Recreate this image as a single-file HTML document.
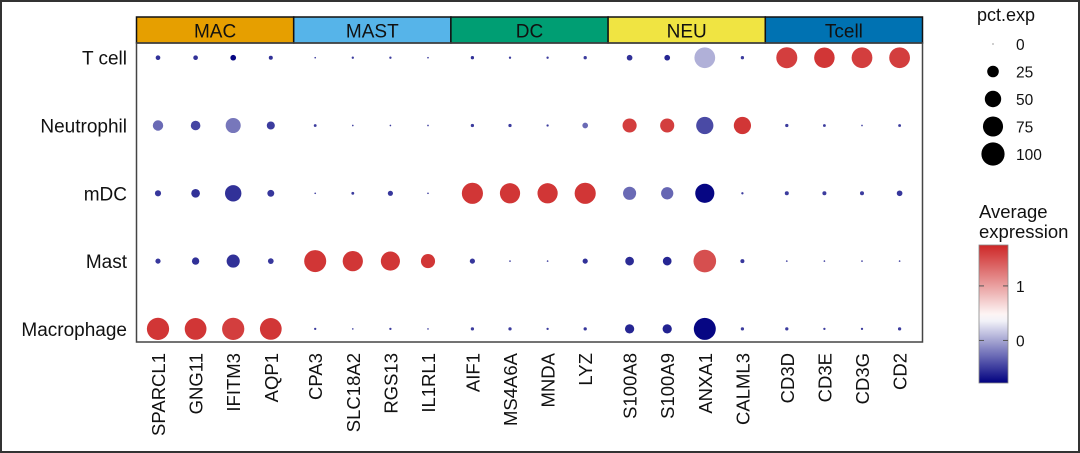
<!DOCTYPE html>
<html><head><meta charset="utf-8"><style>
html,body{margin:0;padding:0;background:#fff}
svg{display:block;font-family:"Liberation Sans",Arial,sans-serif}
</style></head><body>
<svg id="chart" width="1080" height="453" viewBox="0 0 1080 453">
<rect x="1" y="1" width="1078" height="451" fill="#fff" stroke="#333" stroke-width="2"/>
<g id="strips"></g>
<rect x="136.5" y="43" width="786" height="299" fill="none" stroke="#444" stroke-width="1.5"/>
<g id="dots"></g><g id="ylab"></g><g id="xlab"></g><g id="legend"></g>
</svg>
<script>
const genes=["SPARCL1","GNG11","IFITM3","AQP1","CPA3","SLC18A2","RGS13","IL1RL1","AIF1","MS4A6A","MNDA","LYZ","S100A8","S100A9","ANXA1","CALML3","CD3D","CD3E","CD3G","CD2"];
const groups=["MAC","MAST","DC","NEU","Tcell"];
const groupColors=["#E69F00","#56B4E9","#009E73","#F0E442","#0072B2"];
const cellTypes=["T cell","Neutrophil","mDC","Mast","Macrophage"];
const expTcell=[-0.55,-0.55,-0.75,-0.55,-0.5,-0.5,-0.5,-0.5,-0.55,-0.5,-0.5,-0.5,-0.55,-0.6,0.05,-0.5,1.6,1.65,1.6,1.6];
const pctTcell=[4,4,6,3,0.5,1,1,0.5,2,1,1,2,6,6,80,2,82,78,80,80];
const expNeu=[-0.28,-0.45,-0.22,-0.5,-0.5,-0.5,-0.5,-0.5,-0.5,-0.5,-0.5,-0.28,1.6,1.6,-0.43,1.65,-0.5,-0.5,-0.5,-0.5];
const pctNeu=[20,17,42,12,1.5,0.5,0.5,0.5,2,2,1,6,37,37,55,55,2,1.5,0.5,1.5];
const expDC=[-0.52,-0.55,-0.55,-0.52,-0.5,-0.5,-0.52,-0.5,1.65,1.65,1.65,1.65,-0.28,-0.3,-0.75,-0.5,-0.5,-0.5,-0.5,-0.52];
const pctDC=[7,14,50,9,0.5,1.5,5,0.5,83,76,76,83,32,28,68,1,3,3,3,6];
const expMast=[-0.52,-0.55,-0.55,-0.52,1.65,1.65,1.65,1.65,-0.52,-0.5,-0.5,-0.55,-0.58,-0.6,1.5,-0.52,-0.5,-0.5,-0.5,-0.5];
const pctMast=[5,10,32,6,90,76,68,37,5,0.5,0.5,5,14,14,95,3,0.5,0.5,0.5,0.5];
const expMac=[1.65,1.65,1.6,1.65,-0.5,-0.5,-0.5,-0.5,-0.5,-0.5,-0.5,-0.52,-0.6,-0.62,-0.75,-0.5,-0.5,-0.5,-0.5,-0.5];
const pctMac=[92,88,92,88,1,0.5,1,0.5,2,2,1,2,16,16,90,2,2,1,1,2];
const legendPct=[0,25,50,75,100];
const legendTicks=[0,1];

const NS="http://www.w3.org/2000/svg";
function mk(t,a,p){const e=document.createElementNS(NS,t);for(const k in a)e.setAttribute(k,a[k]);p.appendChild(e);return e;}
const panelL=136.5,groupW=157.2;
function xPos(i){const g=Math.floor(i/4),k=i%4;return panelL+g*groupW+21.5+k*37.6;}
function yPos(r){return 57.7+r*67.8;}
const rMax=11.6;
function rScale(p){return Math.max(0.5,rMax*Math.sqrt(p/100));}
const eMin=-0.78,eMid=0.42,eMax=1.75;
function lerp(a,b,t){return a.map((v,i)=>Math.round(v+(b[i]-v)*t));}
function color(v){const lo=[0,0,128],mid=[255,255,255],hi=[205,38,38];
 v=Math.max(eMin,Math.min(eMax,v));
 const c=v<eMid?lerp(lo,mid,(v-eMin)/(eMid-eMin)):lerp(mid,hi,(v-eMid)/(eMax-eMid));
 return `rgb(${c[0]},${c[1]},${c[2]})`;}

const strips=document.getElementById('strips');
groups.forEach((g,i)=>{
 const r=mk('rect',{x:panelL+i*groupW,y:17,width:groupW,height:26,fill:groupColors[i],stroke:'#111','stroke-width':1.5},strips);
 
 
 const t=mk('text',{x:panelL+i*groupW+groupW/2,y:37.5,'text-anchor':'middle','font-size':19,fill:'#111'},strips);
 t.textContent=g;
 
 
});
const rowsE=[expTcell,expNeu,expDC,expMast,expMac],rowsP=[pctTcell,pctNeu,pctDC,pctMast,pctMac];
const dots=document.getElementById('dots');
rowsE.forEach((row,r)=>row.forEach((v,i)=>{
 const c=mk('circle',{cx:xPos(i),cy:yPos(r),r:rScale(rowsP[r][i]),fill:color(v)},dots);
 
 
}));
const yl=document.getElementById('ylab');
cellTypes.forEach((c,r)=>{
 const t=mk('text',{x:127,y:yPos(r)+7,'text-anchor':'end','font-size':19,fill:'#111'},yl);
 t.textContent=c;
 
 
});
const xl=document.getElementById('xlab');
genes.forEach((g,i)=>{
 const x=xPos(i)+7,y=353;
 const t=mk('text',{x:x,y:y,'text-anchor':'end','font-size':18.5,fill:'#111',transform:`rotate(-90 ${x} ${y})`},xl);
 t.textContent=g;
 
 
});
const lg=document.getElementById('legend');
let t=mk('text',{x:977,y:21,'font-size':18,fill:'#111'},lg);t.textContent='pct.exp';


legendPct.forEach((p,i)=>{
 const y=44+i*27.5;
 const c=mk('circle',{cx:993,cy:y,r:rScale(p),fill:'#000'},lg);
 
 
 const tt=mk('text',{x:1016,y:y+6,'font-size':15.5,fill:'#111'},lg);tt.textContent=p;
 
 
});
t=mk('text',{x:979,y:218,'font-size':18.5,fill:'#111'},lg);t.textContent='Average';


t=mk('text',{x:979,y:238,'font-size':18.5,fill:'#111'},lg);t.textContent='expression';


const defs=mk('defs',{},lg);const grad=mk('linearGradient',{id:'cg',x1:0,y1:1,x2:0,y2:0},defs);
const barTop=245,barBot=383;
for(let k=0;k<=20;k++){const v=eMin+(eMax-eMin)*k/20;mk('stop',{offset:k/20,'stop-color':color(v)},grad);}
const bar=mk('rect',{x:979,y:barTop,width:29,height:barBot-barTop,fill:'url(#cg)',stroke:'#888','stroke-width':0.8},lg);


legendTicks.forEach(v=>{
 const y=barBot-(v-eMin)/(eMax-eMin)*(barBot-barTop);
 mk('line',{x1:979,x2:984,y1:y,y2:y,stroke:'#555'},lg);
 mk('line',{x1:1003,x2:1008,y1:y,y2:y,stroke:'#555'},lg);
 const tt=mk('text',{x:1016,y:y+6,'font-size':15.5,fill:'#111'},lg);tt.textContent=v;
 
 
});
</script>
</body></html>
